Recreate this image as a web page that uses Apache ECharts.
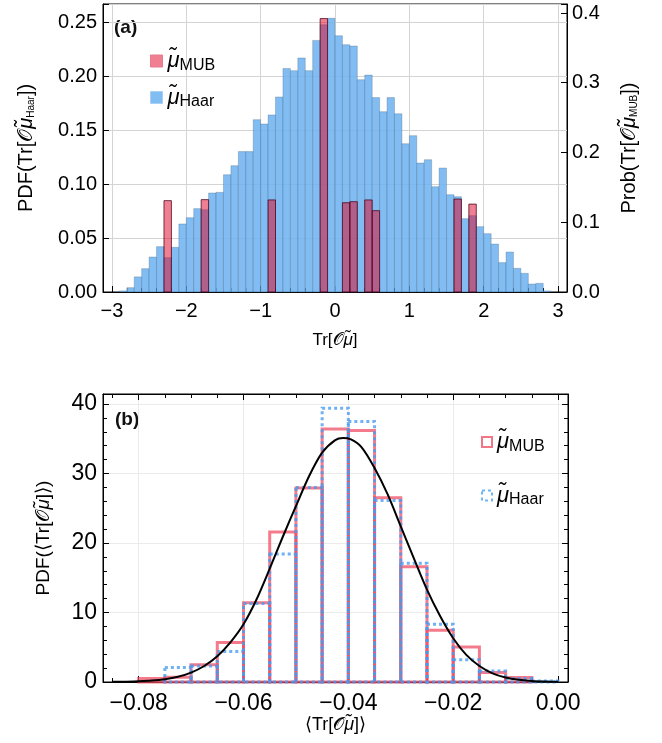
<!DOCTYPE html>
<html><head><meta charset="utf-8">
<script src="https://cdn.jsdelivr.net/npm/echarts@6/dist/echarts.min.js"></script>
<style>html,body{margin:0;padding:0;background:#fff}#c{width:662px;height:743px}</style>
</head><body><div id="c"></div>
<script>
// ---------- data: panel (a) ----------
const aBinStart = -2.9, aBinWidth = 0.1;
const haarA = [0.001, 0.004, 0.014, 0.0216, 0.0324, 0.042, 0.0318, 0.0414, 0.063, 0.0688,
  0.0772, 0.0762, 0.0917, 0.0923, 0.1086, 0.117, 0.130, 0.130, 0.1596, 0.1556,
  0.164, 0.1806, 0.207, 0.205, 0.2167, 0.205, 0.233, 0.2475, 0.2534,
  0.2373, 0.229, 0.2278, 0.1966, 0.2009, 0.18, 0.167, 0.18, 0.165, 0.1373,
  0.1448, 0.1194, 0.1225, 0.0975, 0.1148, 0.0901, 0.0883, 0.0679, 0.0707, 0.0605,
  0.054, 0.0444, 0.0272, 0.037, 0.0219, 0.0173, 0.0074, 0.008, 0.001];
const mubABins = [-2.3, -1.8, -0.9, -0.2, 0.1, 0.2, 0.4, 0.5, 1.6, 1.8];
const mubAProb = [0.131, 0.1324, 0.132, 0.392, 0.128, 0.1295, 0.132, 0.1166, 0.1333, 0.126];
// ---------- data: panel (b) ----------
const bBinStart = -0.08, bBinWidth = 0.005;
const mubB  = [0.5, 0.7, 2.5, 5.7, 11.4, 21.6, 27.9, 36.4, 36.2, 26.5, 16.6, 7.45, 5.05, 1.35, 0.65, 0];
const haarB = [0, 2.1, 2.3, 4.4, 11.3, 18.4, 28.0, 39.4, 37.5, 26.1, 17.1, 8.3, 3.2, 1.6, 0.5, 0.15];
const curveX = [-0.085, -0.0825, -0.08, -0.0775, -0.075, -0.0725, -0.07, -0.0675, -0.065, -0.0625,
  -0.06, -0.0575, -0.055, -0.0525, -0.05, -0.0475, -0.045, -0.0425, -0.041, -0.0395, -0.0375,
  -0.035, -0.0325, -0.03, -0.0275, -0.025, -0.0225, -0.02, -0.0175, -0.015, -0.0125,
  -0.01, -0.0075, -0.005, -0.0025, 0.0];
const curveY = [0.02, 0.05, 0.1, 0.2, 0.4, 0.75, 1.35, 2.3, 3.7, 5.7,
  8.3, 11.9, 16.3, 20.9, 25.3, 29.6, 33.0, 34.8, 35.1, 34.9, 33.8,
  30.8, 27.0, 22.4, 17.8, 13.3, 9.5, 6.3, 3.9, 2.3, 1.25,
  0.65, 0.32, 0.15, 0.07, 0.03];

const F = 'Liberation Sans, Arial, Helvetica, sans-serif';
const onStep = (v, s) => Math.abs(v / s - Math.round(v / s)) < 1e-6;
const minus = s => s.replace('-', '\u2212');
const fmt = (s, d) => v => onStep(v, s) ? minus((Math.abs(v) < 1e-12 ? 0 : v).toFixed(d)) : '';

function hist(start, w, vals) {
  const out = [];
  vals.forEach((v, i) => { if (v > 0) out.push([start + i * w, start + (i + 1) * w, v]); });
  return out;
}
function rectItem(style) {
  return function (params, api) {
    const a = api.coord([api.value(0), api.value(2)]);
    const b = api.coord([api.value(1), 0]);
    return { type: 'rect', shape: { x: a[0], y: a[1], width: b[0] - a[0], height: b[1] - a[1] }, style: style };
  };
}
const tickStyle = { color: '#000', width: 1 };
const txt = { color: '#000', fontFamily: F };
const muRich = {
  mu: { fontSize: 20, fontStyle: 'italic', fontFamily: F, color: '#000' },
  sub: { fontSize: 10, fontFamily: F, color: '#000', padding: [10, 0, 0, 0] }
};
const legRich = {
  m: { fontSize: 22, fontStyle: 'italic', fontFamily: F, color: '#000', lineHeight: 26 },
  s: { fontSize: 16, fontFamily: F, color: '#000', padding: [9, 0, 0, 0] }
};

const chart = echarts.init(document.getElementById('c'), null, { renderer: 'canvas' });
chart.setOption({
  animation: false,
  backgroundColor: '#fff',
  grid: [
    { left: 103, top: 4, width: 464, height: 288, show: true, borderColor: '#000', borderWidth: 1, backgroundColor: 'transparent' },
    { left: 103, top: 394, width: 465, height: 288, show: true, borderColor: '#000', borderWidth: 1, backgroundColor: 'transparent' }
  ],
  xAxis: [
    { gridIndex: 0, type: 'value', min: -3.12, max: 3.12,
      axisLine: { show: true, onZero: false, lineStyle: tickStyle },
      axisTick: { show: true, inside: true, length: 6, lineStyle: tickStyle },
      minorTick: { show: true, splitNumber: 5, length: 4, lineStyle: tickStyle },
      axisLabel: Object.assign({ fontSize: 20, margin: 9, formatter: fmt(1, 0) }, txt),
      splitLine: { show: true, lineStyle: { color: '#d4d4d4' } },
      name: 'Tr[𝒪{mu|μ̃}]', nameLocation: 'middle', nameGap: 40,
      nameTextStyle: Object.assign({ fontSize: 17, rich: { mu: { fontSize: 17, fontStyle: 'italic', fontFamily: F, color: '#000' } } }, txt) },
    { gridIndex: 1, type: 'value', min: -0.0868, max: 0.0019,
      axisLine: { show: true, onZero: false, lineStyle: tickStyle },
      axisTick: { show: true, inside: true, length: 6, lineStyle: tickStyle },
      minorTick: { show: true, splitNumber: 4, length: 4, lineStyle: tickStyle },
      axisLabel: Object.assign({ fontSize: 23, margin: 10, formatter: fmt(0.02, 2) }, txt),
      splitLine: { show: true, lineStyle: { color: '#ebebeb' } },
      name: '⟨Tr[𝒪{mu|μ̃}]⟩', nameLocation: 'middle', nameGap: 34,
      nameTextStyle: Object.assign({ fontSize: 18, rich: { mu: { fontSize: 18, fontStyle: 'italic', fontFamily: F, color: '#000' } } }, txt) },
    { gridIndex: 1, type: 'value', position: 'top', min: -0.0868, max: 0.0019,
      axisLine: { show: true, onZero: false, lineStyle: tickStyle },
      axisTick: { show: true, inside: true, length: 6, lineStyle: tickStyle },
      minorTick: { show: true, splitNumber: 4, length: 4, lineStyle: tickStyle },
      axisLabel: { show: false }, splitLine: { show: false } }
  ],
  yAxis: [
    { gridIndex: 0, type: 'value', min: 0, max: 0.2667, interval: 0.05,
      axisLine: { show: true, onZero: false, lineStyle: tickStyle },
      axisTick: { show: true, inside: true, length: 6, lineStyle: tickStyle },
      axisLabel: Object.assign({ fontSize: 20, margin: 6, formatter: fmt(0.05, 2) }, txt),
      splitLine: { show: true, lineStyle: { color: '#d4d4d4' } },
      name: 'PDF(Tr[𝒪{mu|μ̃}{sub|Haar}])', nameLocation: 'middle', nameRotate: 90, nameGap: 67,
      nameTextStyle: Object.assign({ fontSize: 20, rich: muRich }, txt) },
    { gridIndex: 0, type: 'value', position: 'right', min: 0, max: 0.4129, interval: 0.1,
      axisLine: { show: true, onZero: false, lineStyle: tickStyle },
      axisTick: { show: true, inside: true, length: 6, lineStyle: tickStyle },
      axisLabel: Object.assign({ fontSize: 20, margin: 5, formatter: fmt(0.1, 1) }, txt),
      splitLine: { show: false },
      name: 'Prob(Tr[𝒪{mu|μ̃}{sub|MUB}])', nameLocation: 'middle', nameRotate: 90, nameGap: 52,
      nameTextStyle: Object.assign({ fontSize: 20, rich: muRich }, txt) },
    { gridIndex: 1, type: 'value', min: 0, max: 41.44, interval: 10,
      axisLine: { show: true, onZero: false, lineStyle: tickStyle },
      axisTick: { show: true, inside: true, length: 6, lineStyle: tickStyle },
      minorTick: { show: true, splitNumber: 5, length: 4, lineStyle: tickStyle },
      axisLabel: Object.assign({ fontSize: 23, margin: 6, formatter: fmt(10, 0) }, txt),
      splitLine: { show: true, lineStyle: { color: '#ebebeb' } },
      name: 'PDF(⟨Tr[𝒪{mu|μ̃}]⟩)', nameLocation: 'middle', nameRotate: 90, nameGap: 50,
      nameTextStyle: Object.assign({ fontSize: 19, rich: { mu: { fontSize: 19, fontStyle: 'italic', fontFamily: F, color: '#000' } } }, txt) },
    { gridIndex: 1, type: 'value', position: 'right', min: 0, max: 41.44, interval: 10,
      axisLine: { show: true, onZero: false, lineStyle: tickStyle },
      axisTick: { show: true, inside: true, length: 6, lineStyle: tickStyle },
      minorTick: { show: true, splitNumber: 5, length: 4, lineStyle: tickStyle },
      axisLabel: { show: false }, splitLine: { show: false } }
  ],
  legend: [
    { left: 145, top: 45, orient: 'vertical', itemWidth: 12, itemHeight: 12, itemGap: 13, icon: 'rect',
      selectedMode: false, formatter: n => '{m|μ̃}{s|' + n.split('_')[0] + '}', textStyle: { rich: legRich },
      data: [ { name: 'MUB_a', itemStyle: { color: '#f08091', borderColor: '#e57a8b', borderWidth: 1 } },
              { name: 'Haar_a', itemStyle: { color: '#80bdf2', borderColor: '#a9cff2', borderWidth: 1 } } ] },
    { left: 476, top: 426, orient: 'vertical', itemWidth: 10, itemHeight: 10, itemGap: 30, icon: 'rect',
      selectedMode: false, formatter: n => '{m|μ̃}{s|' + n.split('_')[0] + '}', textStyle: { rich: legRich },
      data: [ { name: 'MUB_b', itemStyle: { color: 'rgba(0,0,0,0)', borderColor: '#f07886', borderWidth: 2 } },
              { name: 'Haar_b', itemStyle: { color: 'rgba(0,0,0,0)', borderColor: '#6fb6f2', borderWidth: 2, borderType: [3, 3] } } ] }
  ],
  graphic: [
    { type: 'text', left: 114, top: 18, style: { text: '(a)', font: 'bold 19px ' + F, fill: '#111' } },
    { type: 'text', left: 115, top: 410, style: { text: '(b)', font: 'bold 19px ' + F, fill: '#111' } }
  ],
  series: [
    { name: 'Haar_a', type: 'custom', xAxisIndex: 0, yAxisIndex: 0, z: 2, silent: true,
      itemStyle: { color: '#80bdf2' }, encode: { x: [0, 1], y: 2 },
      renderItem: rectItem({ fill: 'rgba(111,180,241,0.88)', stroke: 'rgba(60,85,110,0.28)', lineWidth: 1 }),
      data: hist(aBinStart, aBinWidth, haarA) },
    { name: 'MUB_a', type: 'custom', xAxisIndex: 0, yAxisIndex: 1, z: 3, silent: true,
      itemStyle: { color: '#f08091' }, encode: { x: [0, 1], y: 2 },
      renderItem: rectItem({ fill: 'rgba(225,1,35,0.5)', stroke: 'rgba(70,0,25,0.75)', lineWidth: 1 }),
      data: mubABins.map((x, i) => [x, x + aBinWidth, mubAProb[i]]) },
    { name: 'MUB_b', type: 'custom', xAxisIndex: 1, yAxisIndex: 2, z: 2, silent: true,
      itemStyle: { color: '#f07886' }, encode: { x: [0, 1], y: 2 },
      renderItem: rectItem({ fill: 'none', stroke: 'rgba(238,72,96,0.72)', lineWidth: 3 }),
      data: hist(bBinStart, bBinWidth, mubB) },
    { name: 'Haar_b', type: 'custom', xAxisIndex: 1, yAxisIndex: 2, z: 3, silent: true,
      itemStyle: { color: '#6fb6f2' }, encode: { x: [0, 1], y: 2 },
      renderItem: rectItem({ fill: 'none', stroke: 'rgba(70,155,240,0.78)', lineWidth: 3, lineDash: [3, 3] }),
      data: hist(bBinStart, bBinWidth, haarB) },
    { name: 'fit', type: 'line', xAxisIndex: 1, yAxisIndex: 2, z: 5, silent: true,
      symbol: 'none', smooth: 0.3,
      lineStyle: { color: '#000', width: 2 },
      data: curveX.map((x, i) => [x, curveY[i]]) }
  ]
});
</script></body></html>
